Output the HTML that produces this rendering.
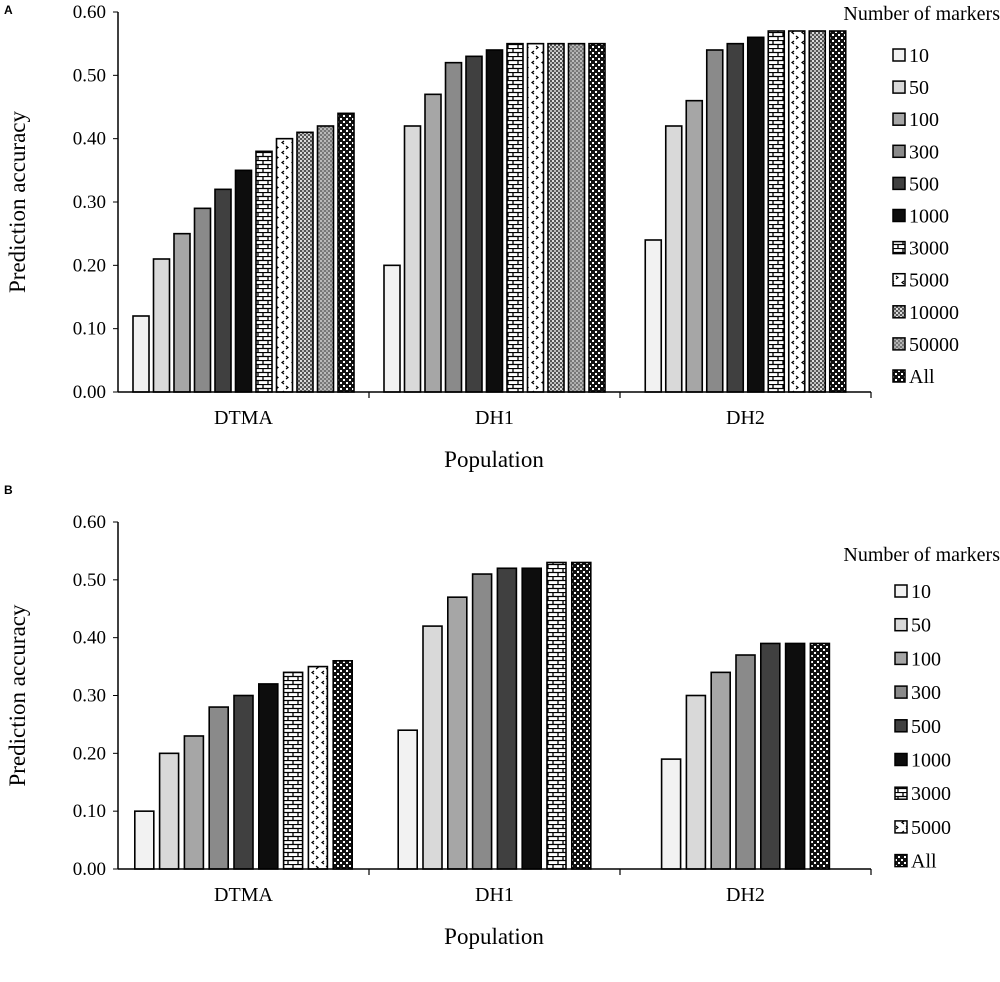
<!DOCTYPE html>
<html><head><meta charset="utf-8"><style>
html,body{margin:0;padding:0;background:#fff;}
svg{display:block;font-family:"Liberation Serif",serif;}
</style></head><body>
<svg id="chart" width="1000" height="982" viewBox="0 0 1000 982">
<defs>
<pattern id="p3000" width="10" height="8" patternUnits="userSpaceOnUse"><rect width="10" height="8" fill="#fff"/><path d="M0 0.5H10M0 4.5H10M3 0V4.5M8 4.5V8" stroke="#000" stroke-width="1.3"/></pattern>
<pattern id="p5000" width="10" height="10" patternUnits="userSpaceOnUse"><rect width="10" height="10" fill="#fff"/><path d="M4 1L2 2.5L4 4M6 6L8 7.5L6 9" stroke="#000" stroke-width="1.2" fill="none"/></pattern>
<pattern id="p10000" width="4" height="4" patternUnits="userSpaceOnUse"><rect width="4" height="4" fill="#555"/><rect width="2" height="2" fill="#ddd"/><rect x="2" y="2" width="2" height="2" fill="#bbb"/></pattern>
<pattern id="p50000" width="4" height="4" patternUnits="userSpaceOnUse"><rect width="4" height="4" fill="#777"/><rect width="2" height="2" fill="#bbb"/><rect x="2" y="2" width="2" height="2" fill="#aaa"/></pattern>
<pattern id="pAll" width="6" height="6" patternUnits="userSpaceOnUse"><rect width="6" height="6" fill="#111"/><rect x="1" y="1" width="2" height="2" fill="#fff"/><rect x="4" y="4" width="2" height="2" fill="#fff"/></pattern>
</defs>
<text x="4" y="14" font-family="Liberation Sans,sans-serif" font-weight="bold" font-size="12">A</text>
<text x="4" y="494" font-family="Liberation Sans,sans-serif" font-weight="bold" font-size="12">B</text>
<g id="gA"></g>
<g id="gB"></g>
</svg>
<script>
const NS="http://www.w3.org/2000/svg";
const groups=["DTMA","DH1","DH2"];
const seriesA=["10","50","100","300","500","1000","3000","5000","10000","50000","All"];
const seriesB=["10","50","100","300","500","1000","3000","5000","All"];
const yTicks=["0.00","0.10","0.20","0.30","0.40","0.50","0.60"];
const aDTMA=[0.12,0.21,0.25,0.29,0.32,0.35,0.38,0.40,0.41,0.42,0.44];
const aDH1=[0.20,0.42,0.47,0.52,0.53,0.54,0.55,0.55,0.55,0.55,0.55];
const aDH2=[0.24,0.42,0.46,0.54,0.55,0.56,0.57,0.57,0.57,null,0.57];
const bDTMA=[0.10,0.20,0.23,0.28,0.30,0.32,0.34,0.35,0.36];
const bDH1=[0.24,0.42,0.47,0.51,0.52,0.52,0.53,null,0.53];
const bDH2=[0.19,0.30,0.34,0.37,0.39,0.39,null,null,0.39];
const fills={"10":"#f2f2f2","50":"#d9d9d9","100":"#a6a6a6","300":"#8a8a8a","500":"#404040","1000":"#0d0d0d","3000":"url(#p3000)","5000":"url(#p5000)","10000":"url(#p10000)","50000":"url(#p50000)","All":"url(#pAll)"};
function mk(parent,tag,attrs,text){const e=document.createElementNS(NS,tag);for(const k in attrs)e.setAttribute(k,attrs[k]);if(text!=null)e.textContent=text;parent.appendChild(e);return e;}
function panel(g,cfg){
  const x0=118,x1=871,y0=cfg.y0,yTop=cfg.yTop;
  const yS=v=>y0-(v/0.6)*(y0-yTop);
  const gw=(x1-x0)/groups.length;
  yTicks.forEach((t,i)=>{
    const v=parseFloat(t),y=yS(v);
    const tk=mk(g,"line",{x1:x0-5,x2:x0,y1:y,y2:y,stroke:"#000","stroke-width":1});
    
    
    const tl=mk(g,"text",{x:x0-12,y:y+6,"text-anchor":"end","font-size":19},t);
    
    
  });
  const ya=mk(g,"line",{x1:x0,x2:x0,y1:yS(0.6),y2:y0,stroke:"#000","stroke-width":1.5});
  
  
  cfg.data.forEach((vals,gi)=>{
    const present=vals.map((v,i)=>[v,i]).filter(p=>p[0]!=null);
    const n=present.length, span=(n-1)*cfg.pitch+cfg.bw;
    const cx=x0+gw*(gi+0.5);
    const left=cx-span/2;
    present.forEach((p,k)=>{
      const v=p[0],s=cfg.series[p[1]];
      const r=mk(g,"rect",{x:left+k*cfg.pitch,y:yS(v),width:cfg.bw,height:y0-yS(v),fill:fills[s],stroke:"#000","stroke-width":1.6});
      
      
    });
    const gl=mk(g,"text",{x:x0+gw*(gi+0.5),y:y0+32,"text-anchor":"middle","font-size":20},groups[gi]);
    
    
    const tk=mk(g,"line",{x1:x0+gw*(gi+1),x2:x0+gw*(gi+1),y1:y0,y2:y0+6,stroke:"#000","stroke-width":1.2});
    
    
  });
  const xa=mk(g,"line",{x1:x0,x2:x1,y1:y0,y2:y0,stroke:"#000","stroke-width":1.5});
  
  
  const xt=mk(g,"text",{x:494,y:y0+75,"text-anchor":"middle","font-size":23},"Population");
  
  
  const ym=(yS(0.6)+y0)/2;
  const yt=mk(g,"text",{x:0,y:0,"text-anchor":"middle","font-size":23,transform:"translate(25,"+ym+") rotate(-90)"},"Prediction accuracy");
  
  
  const lt=mk(g,"text",{x:1000,y:cfg.ltY,"text-anchor":"end","font-size":20},"Number of markers");
  
  
  cfg.series.forEach((s,i)=>{
    const y=cfg.l0+i*cfg.lstep;
    const lg=mk(g,"g",{});
    
    
    mk(lg,"rect",{x:cfg.lx,y:y-6,width:12,height:12,fill:fills[s],stroke:"#000","stroke-width":1.5});
    mk(lg,"text",{x:cfg.lx+16,y:y+7,"font-size":20},s);
  });
}
panel(document.getElementById("gA"),{y0:392,yTop:12,data:[aDTMA,aDH1,aDH2],series:seriesA,pitch:20.5,bw:16,ltY:20,l0:55,lstep:32.1,lx:893});
panel(document.getElementById("gB"),{y0:869,yTop:522,data:[bDTMA,bDH1,bDH2],series:seriesB,pitch:24.8,bw:19,ltY:561,l0:591,lstep:33.7,lx:895});
</script>
</body></html>
